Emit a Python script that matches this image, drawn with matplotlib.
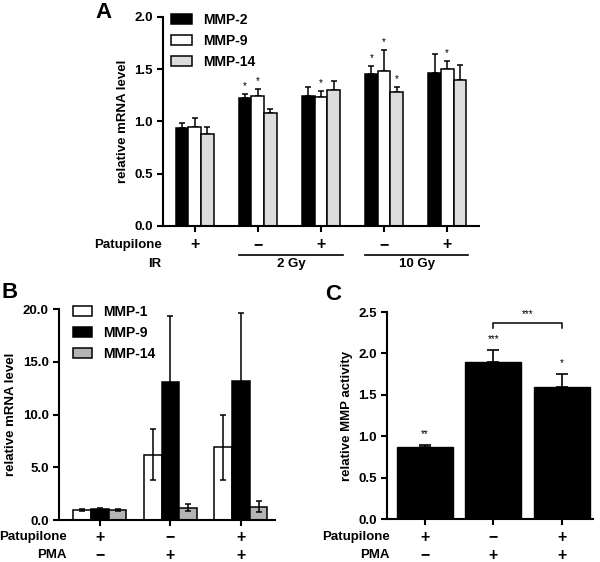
import numpy as np
import matplotlib
matplotlib.use("Agg")
import matplotlib.pyplot as plt
from matplotlib.transforms import blended_transform_factory

plt.rcParams['font.family'] = ['Liberation Sans', 'DejaVu Sans']
plt.rcParams['font.weight'] = 'bold'
plt.rcParams['axes.labelweight'] = 'bold'

# ---------------- Data ----------------
# Panel A
a_series = ["MMP-2", "MMP-9", "MMP-14"]
a_mmp2 = [0.94, 1.22, 1.24, 1.45, 1.46]
a_mmp2_err = [0.05, 0.04, 0.09, 0.08, 0.19]
a_mmp9 = [0.95, 1.24, 1.23, 1.48, 1.50]
a_mmp9_err = [0.08, 0.07, 0.06, 0.20, 0.08]
a_mmp14 = [0.88, 1.08, 1.30, 1.28, 1.40]
a_mmp14_err = [0.065, 0.04, 0.09, 0.05, 0.14]
a_stars_mmp2 = ["", "*", "", "*", ""]
a_stars_mmp9 = ["", "*", "*", "*", "*"]
a_stars_mmp14 = ["", "", "", "*", ""]
a_patupilone = ["+", "\u2212", "+", "\u2212", "+"]
a_ir_groups = ["2 Gy", "10 Gy"]

# Panel B
b_series = ["MMP-1", "MMP-9", "MMP-14"]
b_mmp1 = [0.95, 6.2, 6.9]
b_mmp1_err = [0.05, 2.45, 3.1]
b_mmp9 = [1.0, 13.05, 13.15]
b_mmp9_err = [0.1, 6.3, 6.45]
b_mmp14 = [0.95, 1.15, 1.28]
b_mmp14_err = [0.12, 0.33, 0.48]
b_patupilone = ["+", "\u2212", "+"]
b_pma = ["\u2212", "+", "+"]

# Panel C
c_vals = [0.865, 1.90, 1.595]
c_err = [0.025, 0.14, 0.16]
c_stars = ["**", "***", "*"]
c_patupilone = ["+", "\u2212", "+"]
c_pma = ["\u2212", "+", "+"]

FS = 9.5
fig = plt.figure(figsize=(6, 5.62), dpi=100)

def style_axes(ax):
    for s in ['top', 'right']:
        ax.spines[s].set_visible(False)
    for s in ['left', 'bottom']:
        ax.spines[s].set_linewidth(1.5)
    ax.tick_params(axis='both', direction='out', width=1.5, length=4, labelsize=FS)
    for lab in ax.get_yticklabels():
        lab.set_fontweight('bold')

# ---------------- Panel A ----------------
axA = fig.add_axes([0.2717, 0.5979, 0.798 - 0.2717, 0.9698 - 0.5979])
xA = np.arange(len(a_mmp2))
w = 0.2
cols_A = ['black', 'white', '#dcdcdc']
valsA = [a_mmp2, a_mmp9, a_mmp14]
errsA = [a_mmp2_err, a_mmp9_err, a_mmp14_err]
starsA = [a_stars_mmp2, a_stars_mmp9, a_stars_mmp14]
for i in range(3):
    xs = xA + (i - 1) * w
    axA.bar(xs, valsA[i], width=w, color=cols_A[i], edgecolor='black', linewidth=1.1,
            label=a_series[i], zorder=2)
    axA.errorbar(xs, valsA[i], yerr=[np.zeros(len(xs)), errsA[i]], fmt='none',
                 ecolor='black', elinewidth=1.1, capsize=2.2, capthick=1.1, zorder=1)
    for x, v, e, s in zip(xs, valsA[i], errsA[i], starsA[i]):
        if s:
            axA.text(x, v + e + 0.03, s, ha='center', va='bottom', fontsize=7, fontweight='normal')
axA.set_xlim(-0.5, 4.5)
axA.set_ylim(0, 2.0)
axA.set_yticks([0.0, 0.5, 1.0, 1.5, 2.0])
axA.set_yticklabels(["0.0", "0.5", "1.0", "1.5", "2.0"])
axA.set_xticks(xA)
axA.set_xticklabels([])
axA.set_ylabel("relative mRNA level", fontsize=FS, fontweight='bold', labelpad=4)
style_axes(axA)
axA.legend(loc='upper left', bbox_to_anchor=(0.025, 1.02), frameon=False, fontsize=FS + 0.5,
           handlelength=1.5, handleheight=0.75, labelspacing=0.5, handletextpad=0.8,
           borderaxespad=0, borderpad=0)
trA = blended_transform_factory(axA.transData, axA.transAxes)
for x, s in zip(xA, a_patupilone):
    axA.text(x, -0.09, s, transform=trA, ha='center', va='center', fontsize=FS + 2, fontweight='bold')
axA.text(-0.005, -0.09, "Patupilone", transform=axA.transAxes, ha='right', va='center', fontsize=FS, fontweight='bold')
axA.text(-0.005, -0.182, "IR", transform=axA.transAxes, ha='right', va='center', fontsize=FS, fontweight='bold')
for (x0, x1), lab in zip([(0.7, 2.35), (2.7, 4.33)], a_ir_groups):
    axA.plot([x0, x1], [-0.139, -0.139], transform=trA, color='black', lw=1.2, clip_on=False)
    axA.text((x0 + x1) / 2, -0.182, lab, transform=trA, ha='center', va='center', fontsize=FS, fontweight='bold')
fig.text(103 / 600, 1 - 12 / 562, "A", fontsize=16, fontweight='bold', ha='center', va='center')

# ---------------- Panel B ----------------
axB = fig.add_axes([0.0983, 0.0747, 0.458 - 0.0983, 0.450 - 0.0747])
xB = np.arange(len(b_mmp1))
wb = 0.25
cols_B = ['white', 'black', '#b4b4b4']
valsB = [b_mmp1, b_mmp9, b_mmp14]
errsB = [b_mmp1_err, b_mmp9_err, b_mmp14_err]
for i in range(3):
    xs = xB + (i - 1) * wb
    axB.bar(xs, valsB[i], width=wb, color=cols_B[i], edgecolor='black', linewidth=1.1,
            label=b_series[i], zorder=2)
    axB.errorbar(xs, valsB[i], yerr=errsB[i], fmt='none', ecolor='black',
                 elinewidth=1.1, capsize=2.5, capthick=1.1, zorder=3)
axB.set_xlim(-0.58, 2.48)
axB.set_ylim(0, 20)
axB.set_yticks([0, 5, 10, 15, 20])
axB.set_yticklabels(["0.0", "5.0", "10.0", "15.0", "20.0"])
axB.set_xticks(xB)
axB.set_xticklabels([])
axB.set_ylabel("relative mRNA level", fontsize=FS, fontweight='bold', labelpad=4)
style_axes(axB)
axB.legend(loc='upper left', bbox_to_anchor=(0.065, 1.02), frameon=False, fontsize=FS + 0.5,
           handlelength=1.35, handleheight=0.65, labelspacing=0.5, handletextpad=0.8,
           borderaxespad=0, borderpad=0)
trB = blended_transform_factory(axB.transData, axB.transAxes)
for x, s1, s2 in zip(xB, b_patupilone, b_pma):
    axB.text(x, -0.081, s1, transform=trB, ha='center', va='center', fontsize=FS + 2, fontweight='bold')
    axB.text(x, -0.166, s2, transform=trB, ha='center', va='center', fontsize=FS + 2, fontweight='bold')
axB.text(0.037, -0.081, "Patupilone", transform=axB.transAxes, ha='right', va='center', fontsize=FS, fontweight='bold')
axB.text(0.037, -0.166, "PMA", transform=axB.transAxes, ha='right', va='center', fontsize=FS, fontweight='bold')
fig.text(10 / 600, 1 - 293 / 562, "B", fontsize=16, fontweight='bold', ha='center', va='center')

# ---------------- Panel C ----------------
axC = fig.add_axes([0.645, 0.0765, 0.988 - 0.645, 0.4448 - 0.0765])
xC = np.arange(len(c_vals))
axC.bar(xC, c_vals, width=0.82, color='black', edgecolor='black', zorder=2)
axC.errorbar(xC, c_vals, yerr=[np.zeros(len(xC)), c_err], fmt='none', ecolor='black',
             elinewidth=1.2, capsize=4.5, capthick=1.2, zorder=1)
for x, v, e, s in zip(xC, c_vals, c_err, c_stars):
    axC.text(x, v + e + 0.07, s, ha='center', va='bottom', fontsize=7, fontweight='normal')
axC.set_xlim(-0.55, 2.45)
axC.set_ylim(0, 2.5)
axC.set_yticks([0.0, 0.5, 1.0, 1.5, 2.0, 2.5])
axC.set_yticklabels(["0.0", "0.5", "1.0", "1.5", "2.0", "2.5"])
axC.set_xticks(xC)
axC.set_xticklabels([])
axC.set_ylabel("relative MMP activity", fontsize=FS, fontweight='bold', labelpad=4)
style_axes(axC)
# bracket
by = 2.37
axC.plot([1, 1, 2, 2], [by - 0.06, by, by, by - 0.06], color='black', lw=1.1)
axC.text(1.5, by + 0.05, "***", ha='center', va='bottom', fontsize=7, fontweight='normal')
trC = blended_transform_factory(axC.transData, axC.transAxes)
for x, s1, s2 in zip(xC, c_patupilone, c_pma):
    axC.text(x, -0.087, s1, transform=trC, ha='center', va='center', fontsize=FS + 2, fontweight='bold')
    axC.text(x, -0.174, s2, transform=trC, ha='center', va='center', fontsize=FS + 2, fontweight='bold')
axC.text(0.015, -0.087, "Patupilone", transform=axC.transAxes, ha='right', va='center', fontsize=FS, fontweight='bold')
axC.text(0.015, -0.174, "PMA", transform=axC.transAxes, ha='right', va='center', fontsize=FS, fontweight='bold')
fig.text(333 / 600, 1 - 295 / 562, "C", fontsize=16, fontweight='bold', ha='center', va='center')

fig.savefig("out.png", dpi=100, facecolor='white')
